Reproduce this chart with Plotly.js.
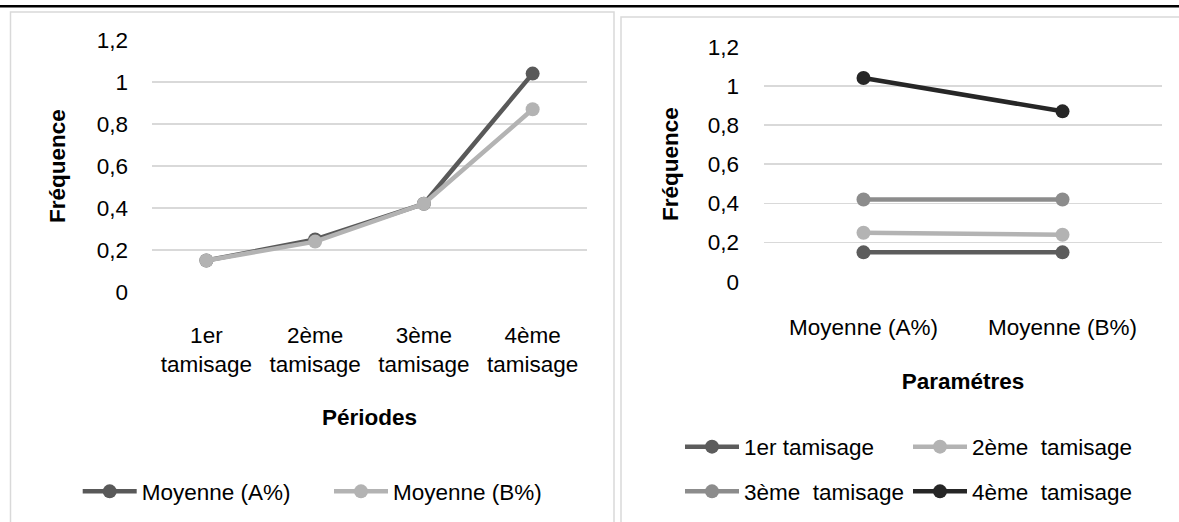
<!DOCTYPE html>
<html>
<head>
<meta charset="utf-8">
<script src="https://cdn.plot.ly/plotly-3.0.1.min.js"></script>
<style>
html,body{margin:0;padding:0;background:#fff;}
#chart{width:1179px;height:522px;}
</style>
</head>
<body>
<div id="chart"></div>
<script>
// ---- data ----
var periods = ['1er tamisage', '2ème tamisage', '3ème tamisage', '4ème tamisage'];
var periodTickLabels = ['1er<br>tamisage', '2ème<br>tamisage', '3ème<br>tamisage', '4ème<br>tamisage'];
var seriesA = [0.15, 0.25, 0.42, 1.04];   // Moyenne (A%)
var seriesB = [0.15, 0.24, 0.42, 0.87];   // Moyenne (B%)
var seriesNames = ['Moyenne (A%)', 'Moyenne (B%)'];
var params = ['Moyenne (A%)', 'Moyenne (B%)'];
var passNames = ['1er tamisage', '2ème\u00a0 tamisage', '3ème\u00a0 tamisage', '4ème\u00a0 tamisage'];
var yTicks = [0, 0.2, 0.4, 0.6, 0.8, 1, 1.2];

// ---- styles ----
var W = 1179, H = 522;
var FONT = 'Liberation Sans, Arial, sans-serif';
var FS = 22.5;
var leftColors = ['#595959', '#b3b3b3'];
var rightColors = ['#5c5c5c', '#b3b3b3', '#8c8c8c', '#262626'];
function px(x){ return x / W; }
function py(y){ return 1 - y / H; }

var traces = [];
[seriesA, seriesB].forEach(function(s, i){
  traces.push({
    type: 'scatter', mode: 'lines+markers', x: periods, y: s, name: seriesNames[i],
    xaxis: 'x', yaxis: 'y', legend: i === 0 ? 'legend' : 'legend2',
    line: {color: leftColors[i], width: 4.5}, marker: {color: leftColors[i], size: 14},
    hoverinfo: 'skip'
  });
});
var legendIds = ['legend3', 'legend4', 'legend5', 'legend6'];
passNames.forEach(function(n, i){
  traces.push({
    type: 'scatter', mode: 'lines+markers', x: params, y: [seriesA[i], seriesB[i]], name: n,
    xaxis: 'x2', yaxis: 'y2', legend: legendIds[i],
    line: {color: rightColors[i], width: 4.5}, marker: {color: rightColors[i], size: 14},
    hoverinfo: 'skip'
  });
});

function legendAt(x, y){
  return {x: px(x), y: py(y), xanchor: 'left', yanchor: 'middle', orientation: 'v',
          itemwidth: 54, font: {family: FONT, size: FS, color: '#000'},
          bgcolor: 'rgba(0,0,0,0)', borderwidth: 0, tracegroupgap: 0};
}

var tickFont = {family: FONT, size: FS, color: '#000'};
var titleFont = {family: FONT, size: FS, color: '#000', weight: 'bold'};
var gridCol = '#d9d9d9';

var layout = {
  width: W, height: H,
  margin: {l: 0, r: 0, t: 0, b: 0, pad: 0},
  paper_bgcolor: '#fff', plot_bgcolor: 'rgba(0,0,0,0)',
  separators: ', ',
  showlegend: true,
  font: {family: FONT, size: FS, color: '#000'},
  xaxis: {
    domain: [px(152), px(587)], anchor: 'y', type: 'category', range: [-0.5, 3.5],
    tickmode: 'array', tickvals: periods, ticktext: periodTickLabels, tickangle: 0,
    showgrid: false, zeroline: false, showline: false, ticks: '',
    tickfont: tickFont, ticklabelstandoff: 27, automargin: false,
    title: {text: 'Périodes', font: titleFont, standoff: 33}
  },
  yaxis: {
    domain: [py(292), py(40)], anchor: 'x', range: [0, 1.2],
    tickmode: 'array', tickvals: yTicks,
    showgrid: true, gridcolor: gridCol, gridwidth: 1.5, zeroline: false, showline: false, ticks: '',
    tickfont: tickFont, ticklabelstandoff: 23, automargin: false,
    title: {text: 'Fréquence', font: titleFont, standoff: 24}
  },
  xaxis2: {
    domain: [px(764), px(1162)], anchor: 'y2', type: 'category', range: [-0.5, 1.5],
    tickmode: 'array', tickvals: params, ticktext: params, tickangle: 0,
    showgrid: false, zeroline: false, showline: false, ticks: '',
    tickfont: tickFont, ticklabelstandoff: 30, automargin: false,
    title: {text: 'Paramétres', font: titleFont, standoff: 34}
  },
  yaxis2: {
    domain: [py(281.7), py(46.7)], anchor: 'x2', range: [0, 1.2],
    tickmode: 'array', tickvals: yTicks,
    showgrid: true, gridcolor: gridCol, gridwidth: 1.5, zeroline: false, showline: false, ticks: '',
    tickfont: tickFont, ticklabelstandoff: 24, automargin: false,
    title: {text: 'Fréquence', font: titleFont, standoff: 22}
  },
  legend: legendAt(77.7, 491.7),
  legend2: legendAt(329, 491.7),
  legend3: legendAt(680, 447),
  legend4: legendAt(908, 447),
  legend5: legendAt(680, 491.7),
  legend6: legendAt(908, 491.7),
  shapes: [
    {type: 'line', xref: 'paper', yref: 'paper', x0: 0, x1: 1, y0: py(6.2), y1: py(6.2),
     line: {color: '#000', width: 2.5}},
    {type: 'rect', xref: 'paper', yref: 'paper', x0: px(10.5), x1: px(614), y0: py(12), y1: py(540),
     line: {color: '#d9d9d9', width: 1.5}},
    {type: 'rect', xref: 'paper', yref: 'paper', x0: px(621), x1: px(1190), y0: py(17), y1: py(540),
     line: {color: '#d9d9d9', width: 1.5}}
  ]
};

Plotly.newPlot('chart', traces, layout, {staticPlot: true, displayModeBar: false});
</script>
</body>
</html>
